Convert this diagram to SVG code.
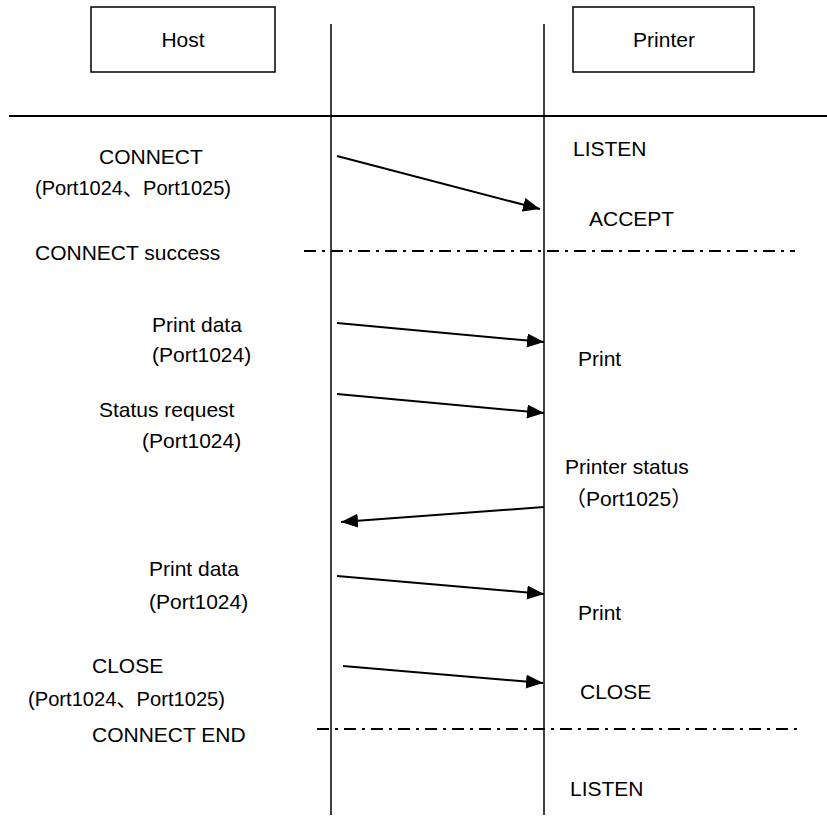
<svg xmlns="http://www.w3.org/2000/svg" width="827" height="817" viewBox="0 0 827 817">
<style>
text{font-family:"Liberation Sans","Noto Sans CJK JP",Arial,sans-serif;font-size:21px;fill:#000}
.box{fill:#fff;stroke:#000;stroke-width:1.5}
.life{stroke:#000;stroke-width:1.5;fill:none}
.msg{stroke:#000;stroke-width:2;fill:none;marker-end:url(#ah)}
.dd{stroke:#000;stroke-width:2;fill:none;stroke-dasharray:12 6 3 6}
.mid{text-anchor:middle}
</style>
<defs>
<marker id="ah" markerUnits="userSpaceOnUse" markerWidth="18" markerHeight="15" refX="17" refY="7" orient="auto">
<path d="M0,0 L17,7 L0,14 Z" fill="#000"/>
</marker>
</defs>
<rect width="827" height="817" fill="#fff"/>
<g id="host">
<rect class="box" x="91" y="7" width="184" height="65"/>
<text class="mid" x="183" y="47">Host</text>
</g>
<g id="printer">
<rect class="box" x="573" y="7" width="181" height="65"/>
<text class="mid" x="664" y="47">Printer</text>
</g>
<g id="connectors">
<line class="life" x1="331" y1="24" x2="331" y2="815"/>
<line class="life" x1="544" y1="24" x2="544" y2="815"/>
<line x1="9" y1="116" x2="827" y2="116" stroke="#000" stroke-width="2"/>
<line class="dd" x1="304" y1="251" x2="795" y2="251"/>
<line class="dd" x1="317" y1="729" x2="800" y2="729"/>
<line class="msg" x1="337" y1="156" x2="540" y2="209"/>
<line class="msg" x1="337" y1="323" x2="544" y2="342"/>
<line class="msg" x1="337" y1="394" x2="544" y2="413"/>
<line class="msg" x1="544" y1="507" x2="341" y2="522"/>
<line class="msg" x1="337" y1="576" x2="544" y2="594"/>
<line class="msg" x1="343" y1="666" x2="543" y2="683"/>
</g>
<g id="host-labels">
<text x="99" y="164">CONNECT</text>
<text x="35" y="195" textLength="196" lengthAdjust="spacingAndGlyphs">(Port1024、Port1025)</text>
<text x="35" y="260">CONNECT success</text>
<text x="152" y="332">Print data</text>
<text x="152" y="362">(Port1024)</text>
<text x="99" y="417">Status request</text>
<text x="142" y="448">(Port1024)</text>
<text x="149" y="576">Print data</text>
<text x="149" y="609">(Port1024)</text>
<text x="92" y="673">CLOSE</text>
<text x="28" y="706" textLength="197" lengthAdjust="spacingAndGlyphs">(Port1024、Port1025)</text>
<text x="92" y="742">CONNECT END</text>
</g>
<g id="printer-labels">
<text x="573" y="156">LISTEN</text>
<text x="589" y="226">ACCEPT</text>
<text x="578" y="366">Print</text>
<text x="565" y="474">Printer status</text>
<text x="565" y="506">（Port1025）</text>
<text x="578" y="620">Print</text>
<text x="580" y="699">CLOSE</text>
<text x="570" y="796">LISTEN</text>
</g>
</svg>
